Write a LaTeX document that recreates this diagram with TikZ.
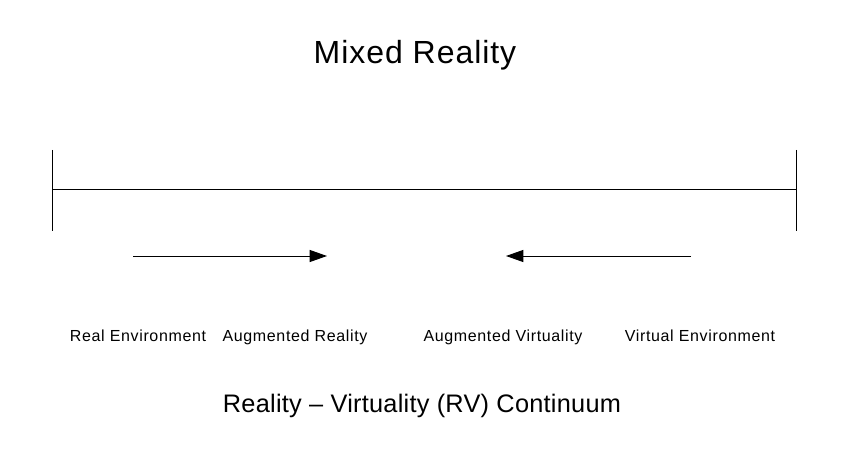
\documentclass[tikz,border=0pt]{standalone}
\usepackage{fontspec}
\setmainfont{Liberation Sans}
\newfontfamily\titlefont[LetterSpace=3]{Liberation Sans}
\newfontfamily\stagefont[LetterSpace=4]{Liberation Sans}
\newfontfamily\captionfont[LetterSpace=1]{Liberation Sans}
\usetikzlibrary{arrows.meta}

\tikzset{
    stage/.style={anchor=base, font=\stagefont\fontsize{12}{14}\selectfont},
    shift arrow/.style={line width=0.75pt, -{Triangle[length=13pt, width=9pt]}}
}

\begin{document}
\begin{tikzpicture}[x=0.75pt, y=-0.75pt]
        \useasboundingbox (0, 0) rectangle (851, 467);
        % continuum axis
        \coordinate (left) at (52, 190);
        \coordinate (right) at (796, 190);
        \draw [line width=0.75pt] (left) -- (right);
        \draw [line width=0.75pt] (52, 150) -- (52, 231);
        \draw [line width=0.75pt] (796, 150) -- (796, 231);
        % arrows
        \coordinate (ar start) at (133, 256);
        \coordinate (ar end) at (327, 256);
        \coordinate (av start) at (691, 256);
        \coordinate (av end) at (506, 256);
        \draw [shift arrow] (ar start) -- (ar end);
        \draw [shift arrow] (av start) -- (av end);
        % texts
        \node (title) [anchor=base, font=\titlefont\fontsize{24}{28}\selectfont] at (415, 64) {Mixed Reality};
        \node (real) [stage] at (138, 341) {Real Environment};
        \node (ar) [stage] at (295, 341) {Augmented Reality};
        \node (av) [stage] at (503, 341) {Augmented Virtuality};
        \node (virtual) [stage] at (700, 341) {Virtual Environment};
        \node (caption) [anchor=base, font=\captionfont\fontsize{19}{23}\selectfont] at (422, 412) {Reality – Virtuality (RV) Continuum};
    \end{tikzpicture}
\end{document}
